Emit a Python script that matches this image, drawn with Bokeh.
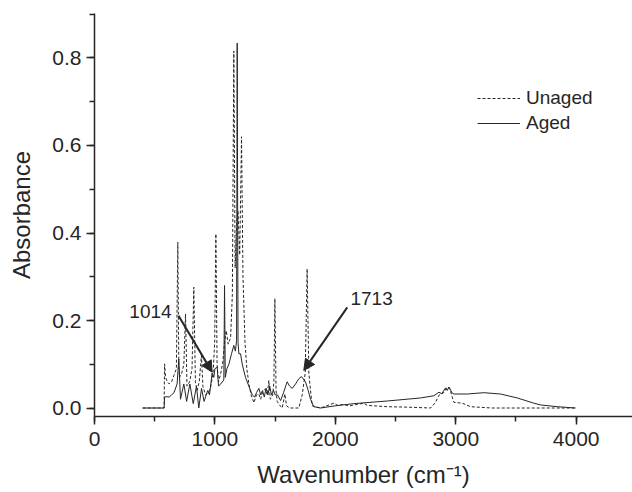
from bokeh.plotting import figure
from bokeh.models import (Range1d, SingleIntervalTicker, PrintfTickFormatter,
                          Legend, LegendItem, Arrow, NormalHead, ColumnDataSource)
from bokeh.core.properties import value
from bokeh.embed import file_html
from bokeh.resources import INLINE

# ---- data ----
unaged_x = [400, 578, 582, 590, 605, 620, 640, 660, 680, 692, 700, 706, 725, 742, 756, 768,
            790, 810, 825, 838, 852, 870, 888, 900, 922, 945, 963, 985, 998, 1008, 1018, 1030,
            1047, 1066, 1080, 1094, 1110, 1130, 1145, 1157, 1168, 1180, 1192, 1206, 1221, 1233,
            1250, 1265, 1282, 1300, 1324, 1345, 1365, 1380, 1395, 1420, 1435, 1448, 1460, 1480,
            1490, 1498, 1508, 1517, 1545, 1559, 1581, 1595, 1620, 1697, 1725, 1750, 1766, 1780,
            1794, 1808, 1877, 1988, 2020, 2060, 2120, 2237, 2265, 2431, 2600, 2791, 2832, 2860,
            2900, 2930, 2950, 2971, 2985, 3054, 3123, 3300, 3995]
unaged_y = [0.0, 0.0, 0.101, 0.07, 0.06, 0.055, 0.06, 0.075, 0.09, 0.379, 0.1, 0.07, 0.08, 0.1,
            0.215, 0.05, 0.06, 0.09, 0.276, 0.06, 0.04, 0.06, 0.12, 0.05, 0.03, 0.035, 0.045,
            0.08, 0.15, 0.398, 0.1, 0.06, 0.077, 0.106, 0.15, 0.177, 0.146, 0.16, 0.26, 0.816,
            0.32, 0.42, 0.45, 0.35, 0.62, 0.3, 0.15, 0.09, 0.055, 0.03, 0.012, 0.03, 0.032, 0.02,
            0.035, 0.044, 0.03, 0.063, 0.02, 0.03, 0.06, 0.25, 0.04, 0.015, 0.004, 0.0, 0.032,
            0.005, 0.0, 0.0, 0.03, 0.08, 0.318, 0.08, 0.04, 0.005, 0.0, 0.011, 0.006, 0.008,
            0.005, 0.011, 0.006, 0.003, 0.002, 0.0, 0.013, 0.029, 0.035, 0.048, 0.045, 0.025,
            0.013, 0.011, 0.003, 0.0, 0.0]

aged_x = [400, 578, 582, 600, 620, 640, 660, 686, 700, 714, 742, 765, 792, 820, 847, 866, 889,
          910, 940, 955, 977, 991, 1000, 1019, 1030, 1047, 1074, 1080, 1086, 1100, 1116, 1138,
          1157, 1170, 1180, 1185, 1192, 1199, 1213, 1227, 1254, 1282, 1310, 1330, 1345, 1365,
          1380, 1395, 1410, 1425, 1440, 1455, 1470, 1487, 1500, 1520, 1545, 1570, 1600, 1620,
          1642, 1670, 1697, 1719, 1752, 1775, 1794, 1821, 1877, 2000, 2154, 2431, 2708, 2818,
          2860, 2885, 2915, 2930, 2943, 2971, 2985, 3096, 3233, 3372, 3511, 3649, 3704, 3843,
          3995]
aged_y = [0.0, 0.0, 0.025, 0.026, 0.025, 0.03, 0.035, 0.055, 0.112, 0.02, 0.055, 0.015, 0.055,
          0.01, 0.05, 0.0, 0.045, 0.015, 0.04, 0.03, 0.08, 0.07, 0.09, 0.093, 0.05, 0.055, 0.064,
          0.28, 0.07, 0.09, 0.1, 0.124, 0.143, 0.13, 0.154, 0.834, 0.15, 0.124, 0.124, 0.1,
          0.07, 0.05, 0.03, 0.025, 0.035, 0.045, 0.03, 0.04, 0.025, 0.045, 0.03, 0.05, 0.03,
          0.04, 0.03, 0.03, 0.017, 0.035, 0.06, 0.05, 0.045, 0.055, 0.067, 0.072, 0.06, 0.04,
          0.02, 0.003, 0.0, 0.005, 0.01, 0.016, 0.023, 0.028, 0.036, 0.033, 0.046, 0.04, 0.048,
          0.034, 0.032, 0.032, 0.035, 0.032, 0.023, 0.011, 0.007, 0.003, 0.0]

series_labels = ["Unaged", "Aged"]
x_ticks_interval = 1000
y_ticks_interval = 0.2

# annotation texts and positions (data units)
ann_labels = ["1014", "1713"]
ann_text_x = [465, 2301]
ann_text_y = [0.22, 0.25]
ann_arrow_start = [(698, 0.211), (2099, 0.230)]
ann_arrow_end = [(977, 0.082), (1738, 0.086)]

FONT = "Liberation Sans"
INK = "#262626"

p = figure(width=632, height=492, output_backend="svg", toolbar_location=None,
           x_range=Range1d(0, 4468), y_range=Range1d(-0.0194, 0.9017),
           min_border_left=94, min_border_right=0, min_border_top=13, min_border_bottom=76)
p.xgrid.visible = False
p.ygrid.visible = False
p.outline_line_color = None
p.background_fill_color = "white"
p.border_fill_color = "white"

r_unaged = p.line(unaged_x, unaged_y, line_color=INK, line_width=1, line_dash="3 2")
r_aged = p.line(aged_x, aged_y, line_color=INK, line_width=1)

for ax in (p.xaxis[0], p.yaxis[0]):
    ax.axis_line_color = INK
    ax.axis_line_width = 1.5
    ax.major_tick_line_color = INK
    ax.minor_tick_line_color = INK
    ax.major_tick_line_width = 1.5
    ax.minor_tick_line_width = 1.5
    ax.major_tick_out = 8
    ax.major_tick_in = 0
    ax.minor_tick_out = 5
    ax.minor_tick_in = 0
    ax.major_label_text_font = FONT
    ax.major_label_text_font_size = "21px"
    ax.major_label_text_color = INK
    ax.axis_label_text_font = FONT
    ax.axis_label_text_font_size = "24px"
    ax.axis_label_text_font_style = "normal"
    ax.axis_label_text_color = INK

p.xaxis.ticker = SingleIntervalTicker(interval=x_ticks_interval, num_minor_ticks=2)
p.yaxis.ticker = SingleIntervalTicker(interval=y_ticks_interval, num_minor_ticks=2)
p.yaxis.formatter = PrintfTickFormatter(format="%.1f")
p.xaxis.major_label_standoff = 7
p.yaxis.major_label_standoff = 5
p.xaxis.axis_label = "Wavenumber (cm\u207b\u00b9)"
p.yaxis.axis_label = "Absorbance"
p.xaxis.axis_label_standoff = 12
p.yaxis.axis_label_standoff = 14

src = ColumnDataSource(dict(x=ann_text_x, y=ann_text_y, t=ann_labels))
p.text(x="x", y="y", text="t", source=src, text_font=value(FONT), text_font_size="19px",
       text_color=INK, text_align="center", text_baseline="middle")
for (x0, y0), (x1, y1) in zip(ann_arrow_start, ann_arrow_end):
    p.add_layout(Arrow(x_start=x0, y_start=y0, x_end=x1, y_end=y1, line_color=INK,
                       line_width=2,
                       end=NormalHead(size=11, fill_color=INK, line_color=INK, line_width=1)))

legend = Legend(items=[LegendItem(label=series_labels[0], renderers=[r_unaged]),
                       LegendItem(label=series_labels[1], renderers=[r_aged])],
                location=(383, 282), padding=0, margin=0, spacing=3,
                glyph_width=43, glyph_height=20, label_height=20, label_standoff=6,
                label_text_font=FONT, label_text_font_size="19px", label_text_color=INK,
                border_line_color=None, background_fill_alpha=0)
p.add_layout(legend)

open("out.html", "w").write(file_html(p, INLINE))
